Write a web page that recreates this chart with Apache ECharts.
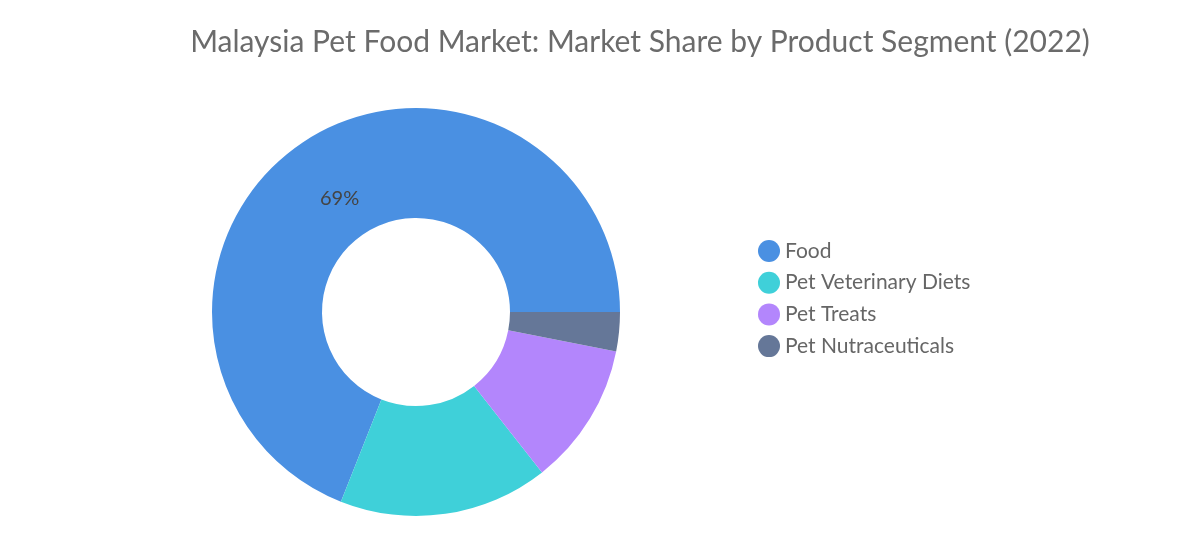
<!DOCTYPE html>
<html><head><meta charset="utf-8">
<script src="https://cdn.jsdelivr.net/npm/echarts@6/dist/echarts.min.js"></script>
<style>html,body{margin:0;padding:0;background:#fff}#c{width:1189px;height:537px}</style>
</head><body><div id="c"></div>
<script>
const categories = ["Food", "Pet Veterinary Diets", "Pet Treats", "Pet Nutraceuticals"];
const shares = [69, 16.6, 11.3, 3.1];
const colors = ["#4a90e2", "#3fd0d9", "#b386fc", "#657798"];
const titleText = "Malaysia Pet Food Market: Market Share by Product Segment (2022)";

const chart = echarts.init(document.getElementById('c'));
chart.setOption({
  animation: false,
  title: {
    text: titleText, left: 635, top: 22, textAlign: 'center',
    textStyle: { fontFamily: 'Lato', fontWeight: 'normal', fontSize: 30, color: '#6b6b6b' }
  },
  legend: {
    orient: 'vertical', left: 753, top: 235, icon: 'circle',
    itemWidth: 22, itemHeight: 22, itemGap: 9.7,
    data: categories,
    textStyle: { fontFamily: 'Lato', fontSize: 21, color: '#666', padding: [0,0,0,0] }
  },
  series: [{
    type: 'pie',
    center: [416, 312],
    radius: [94, 204],
    startAngle: 0,
    clockwise: false,
    label: {
      show: true, position: 'inside',
      fontFamily: 'Lato', fontSize: 20, color: '#444',
      offset: [9, 12],
      formatter: p => p.dataIndex === 0 ? p.value + '%' : ''
    },
    labelLine: { show: false },
    emphasis: { disabled: true },
    itemStyle: { borderWidth: 0 },
    data: categories.map((n, i) => ({ name: n, value: shares[i], itemStyle: { color: colors[i] } }))
  }]
});
</script></body></html>
